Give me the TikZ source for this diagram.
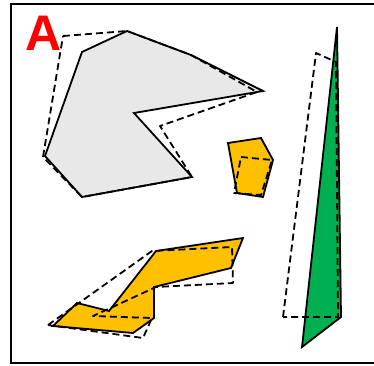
\documentclass[tikz,border=0pt]{standalone}
\usepackage{fontspec}
\setmainfont{Liberation Sans}
\definecolor{lgrey}{RGB}{232,232,232}
\definecolor{gold}{RGB}{255,192,0}
\definecolor{grn}{RGB}{0,176,80}
\begin{document}
\begin{tikzpicture}[x=1pt,y=-1pt,
  solidpoly/.style={draw=black,line width=1.8pt,line join=miter},
  dashpoly/.style={draw=black,line width=1.8pt,dash pattern=on 7pt off 4pt,line join=round}]
\useasboundingbox (0,0) rectangle (374,365);
\fill[white] (0,0) rectangle (374,365);
\draw[line width=2pt] (11,4) rectangle (376,363);
% grey polygon
\draw[solidpoly,fill=lgrey] (127,31) -- (191,55) -- (263,91) -- (134,113) -- (192,177) -- (82,197) -- (45,156) -- (82,52) -- cycle;
\draw[dashpoly] (63,36) -- (127,31) -- (191,55) -- (257,92) -- (160,126) -- (192,177) -- (82,197) -- (43,157) -- cycle;
% small orange
\draw[solidpoly,fill=gold] (228,143) -- (261,138) -- (273,160) -- (263,197) -- (237,193) -- cycle;
\draw[dashpoly] (241,157) -- (272,160) -- (261,195) -- (234,193) -- cycle;
% bottom orange
\draw[solidpoly,fill=gold] (53,326) -- (77,303) -- (109,311) -- (156,251) -- (243,238) -- (231,268) -- (154,287) -- (154,318) -- (133,333) -- cycle;
\draw[dashpoly] (48,325) -- (152,251) -- (232,247) -- (233,283) -- (156,287) -- (93,316) -- (152,318) -- (143,338) -- cycle;
% green
\draw[solidpoly,fill=grn] (337,27) -- (341,317) -- (302,347) -- cycle;
\draw[dashpoly] (283,317) -- (316,53) -- (336,62) -- (338,317) -- cycle;
% label
\node[text=red,font=\bfseries\fontsize{50}{50}\selectfont,inner sep=0pt,anchor=base] (lblA) at (44,50) {A};
\end{tikzpicture}
\end{document}
